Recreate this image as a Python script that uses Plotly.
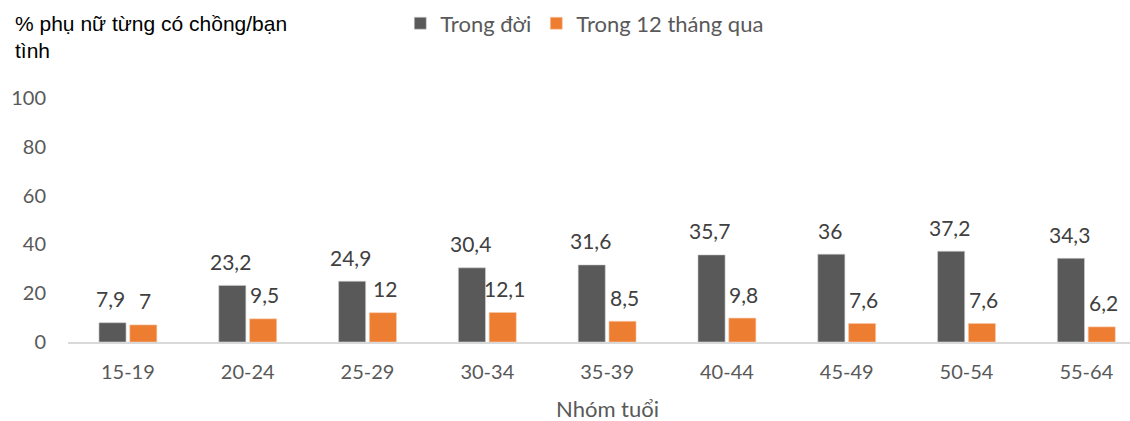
import plotly.graph_objects as go

categories = ["15-19", "20-24", "25-29", "30-34", "35-39", "40-44", "45-49", "50-54", "55-64"]
lifetime = [7.9, 23.2, 24.9, 30.4, 31.6, 35.7, 36, 37.2, 34.3]
last12 = [7, 9.5, 12, 12.1, 8.5, 9.8, 7.6, 7.6, 6.2]
y_ticks = [0, 20, 40, 60, 80, 100]

DARK = "#595959"
ORANGE = "#ED7D31"
TXT = "#595959"
LBL = "#404040"
FONT = "Lato, Calibri, sans-serif"

def fmt(v):
    return ("%g" % v).replace(".", ",")

fig = go.Figure()
fig.add_trace(go.Bar(x=categories, y=lifetime, name="Trong đời",
                     marker=dict(color=DARK, line=dict(color="#d0d0d0", width=0.6))))
fig.add_trace(go.Bar(x=categories, y=last12, name="Trong 12 tháng qua",
                     marker=dict(color=ORANGE, line=dict(color="#f8cbad", width=0.6))))

annotations = []
for i, c in enumerate(categories):
    for vals, dx in ((lifetime, -17), (last12, 17)):
        annotations.append(dict(x=c, y=vals[i], xref="x", yref="y", text=fmt(vals[i]),
                                showarrow=False, xshift=dx, yshift=24, yanchor="middle",
                                font=dict(family=FONT, size=21, color=LBL)))

W, H = 1130, 421
L, R, T, B = 67.6, 0, 98, 79.3
pw = W - L - R
ph = H - T - B

def px_x(p):
    return (p - L) / pw

def px_y(p):
    return (H - B - p) / ph

TITLE_FONT = dict(family="Liberation Sans, Arial", size=21, color="#000000")
annotations.append(dict(x=px_x(13), y=px_y(24), xref="paper", yref="paper",
                        xanchor="left", yanchor="middle", align="left", showarrow=False,
                        text="% phụ nữ từng có chồng/bạn", font=TITLE_FONT))
annotations.append(dict(x=px_x(13), y=px_y(51), xref="paper", yref="paper",
                        xanchor="left", yanchor="middle", align="left", showarrow=False,
                        text="tình", font=TITLE_FONT))
annotations.append(dict(x=px_x(607), y=px_y(408), xref="paper", yref="paper",
                        xanchor="center", yanchor="middle", showarrow=False,
                        text="Nhóm tuổi",
                        font=dict(family=FONT, size=22, color=TXT)))

cat_w = 119.85
last_range = 8.5 - (L + 9 * cat_w - W) / cat_w

fig.update_layout(
    width=W, height=H,
    margin=dict(l=L, r=R, t=T, b=B, pad=0),
    paper_bgcolor="white", plot_bgcolor="white",
    barmode="group", bargap=0.486, bargroupgap=0.12,
    showlegend=True,
    legend=dict(orientation="h", x=px_x(400), y=px_y(23.5), xanchor="left", yanchor="middle",
                font=dict(family=FONT, size=22, color=TXT),
                itemclick=False, tracegroupgap=0),
    xaxis=dict(type="category", range=[-0.5, last_range], showgrid=False, showline=True,
               linecolor="#d9d9d9", linewidth=1.5, ticks="", ticklabelstandoff=11,
               tickfont=dict(family=FONT, size=20, color=TXT), fixedrange=True),
    yaxis=dict(range=[0, 100], tickvals=y_ticks, showgrid=False, showline=False, zeroline=False,
               ticks="", ticklabelstandoff=21,
               tickfont=dict(family=FONT, size=20, color=TXT), fixedrange=True),
    annotations=annotations,
)

fig.write_html("out.html", config={"displayModeBar": False},
               post_script="document.body.style.margin='0px';")
